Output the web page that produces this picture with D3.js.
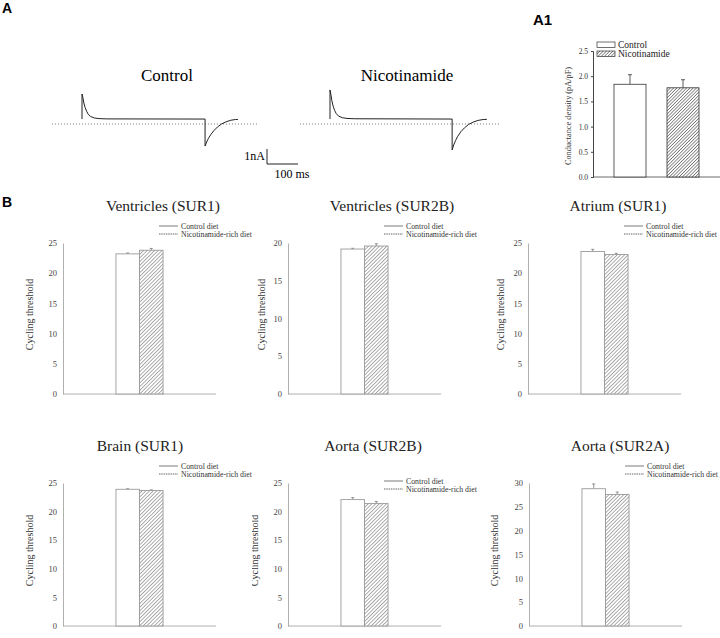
<!DOCTYPE html>
<html>
<head>
<meta charset="utf-8">
<script src="https://cdn.jsdelivr.net/npm/d3@7"></script>
<style>
  body { margin: 0; background: #fff; }
  svg { display: block; }
</style>
</head>
<body>
<div id="chart"></div>
<script>
// ---- data ----
// panel A traces: [time ms, current nA]
const controlTrace = [[0,0.33],[0,2.0],[3,1.75],[6,1.4],[10,1.1],[15,0.85],[20,0.65],[28,0.5],[40,0.4],[55,0.36],[80,0.34],[397,0.33],
  [397,-1.47],[402,-1.2],[408,-0.95],[415,-0.72],[425,-0.45],[437,-0.2],[450,0.0],[465,0.15],[480,0.25],[495,0.3],[503,0.3]];
const nicoTrace = [[0,0.33],[0,2.27],[3,1.95],[6,1.55],[10,1.2],[15,0.9],[20,0.7],[28,0.52],[40,0.42],[55,0.37],[80,0.35],[394,0.33],
  [394,-1.73],[399,-1.4],[405,-1.1],[412,-0.82],[422,-0.52],[434,-0.25],[447,-0.03],[462,0.13],[478,0.24],[494,0.3],[506,0.31]];
const baselineExtent = [[-97, 565], [-97, 550]];
const traceNames = ["Control", "Nicotinamide"];

// panel A1
const a1Groups = ["Control", "Nicotinamide"];
const a1Means = [1.84, 1.77];
const a1Errs = [0.19, 0.16];
const a1Ticks = [0, 0.5, 1.0, 1.5, 2.0, 2.5];

// panel B
const bTitles = ["Ventricles (SUR1)", "Ventricles (SUR2B)", "Atrium (SUR1)", "Brain (SUR1)", "Aorta (SUR2B)", "Aorta (SUR2A)"];
const bGroups = ["Control diet", "Nicotinamide-rich diet"];
const controlMeans = [23.2, 19.2, 23.6, 23.9, 22.1, 28.8];
const controlErrs = [0.15, 0.1, 0.35, 0.1, 0.35, 1.0];
const nicoMeans = [23.8, 19.6, 23.1, 23.7, 21.4, 27.6];
const nicoErrs = [0.3, 0.3, 0.2, 0.1, 0.35, 0.5];
const yMaxes = [25, 20, 25, 25, 25, 30];

// ---- layout ----
const width = 720, height = 638;
const svg = d3.select("#chart").append("svg")
  .attr("width", width).attr("height", height);

const serif = "'Liberation Serif', 'Times New Roman', serif";
const sans = "'Liberation Sans', Arial, sans-serif";

const defs = svg.append("defs");
function hatch(id, gap, color, sw) {
  const p = defs.append("pattern").attr("id", id)
    .attr("patternUnits", "userSpaceOnUse")
    .attr("width", gap).attr("height", gap)
    .attr("patternTransform", "rotate(45)");
  p.append("rect").attr("width", gap).attr("height", gap).attr("fill", "#fff");
  p.append("line").attr("x1", 0).attr("y1", 0).attr("x2", 0).attr("y2", gap)
    .attr("stroke", color).attr("stroke-width", sw);
}
hatch("hatchB", 2.6, "#777", 1.2);
hatch("hatchA", 2.3, "#3a3a3a", 1.1);

// panel labels
svg.append("text").attr("x", 2).attr("y", 13).text("A")
  .style("font-family", sans).style("font-weight", "bold").style("font-size", "14px");
svg.append("text").attr("x", 533).attr("y", 25).text("A1")
  .style("font-family", sans).style("font-weight", "bold").style("font-size", "15px");
svg.append("text").attr("x", 2).attr("y", 207).text("B")
  .style("font-family", sans).style("font-weight", "bold").style("font-size", "14px");

// ---- A: current traces ----
const tScale = d3.scaleLinear().domain([0, 100]).range([0, 31]);
const iScale = d3.scaleLinear().domain([0, 1]).range([124, 109]);
const traceOrigins = [82, 330];
const labelCenters = [167, 407];
[controlTrace, nicoTrace].forEach((tr, k) => {
  const g = svg.append("g").attr("transform", `translate(${traceOrigins[k]},0)`);
  g.append("line")
    .attr("x1", tScale(baselineExtent[k][0])).attr("x2", tScale(baselineExtent[k][1]))
    .attr("y1", iScale(0)).attr("y2", iScale(0))
    .attr("stroke", "#555").attr("stroke-width", 0.8).attr("stroke-dasharray", "1,2");
  g.append("path").datum(tr)
    .attr("d", d3.line().x(d => tScale(d[0])).y(d => iScale(d[1])))
    .attr("fill", "none").attr("stroke", "#222").attr("stroke-width", 1);
  svg.append("text").attr("x", labelCenters[k]).attr("y", 81)
    .attr("text-anchor", "middle").text(traceNames[k])
    .style("font-family", serif).style("font-size", "17px");
});

// scale bar
const sb = svg.append("g").attr("transform", "translate(267,164)");
sb.append("path")
  .attr("d", `M0,${iScale(1) - iScale(0)}V0H${tScale(100)}`)
  .attr("fill", "none").attr("stroke", "#222").attr("stroke-width", 1);
sb.append("text").attr("x", -2).attr("y", -4).attr("text-anchor", "end").text("1nA")
  .style("font-family", serif).style("font-size", "12px");
sb.append("text").attr("x", 25).attr("y", 14).attr("text-anchor", "middle").text("100 ms")
  .style("font-family", serif).style("font-size", "12px");

// ---- A1: conductance density ----
{
  const x0 = 593, x1 = 720, yb = 177, yt = 51;
  const x = d3.scaleBand().domain(a1Groups).range([x0, x1])
    .paddingInner(0.396).paddingOuter(0.396);
  const y = d3.scaleLinear().domain([0, 2.5]).range([yb, yt]);
  const g = svg.append("g");
  const ax = g.append("g").attr("transform", `translate(${x0},0)`)
    .call(d3.axisLeft(y).tickValues(a1Ticks).tickFormat(d3.format(".1f")).tickSize(2));
  ax.select(".domain").attr("stroke", "#444");
  ax.selectAll("line").attr("stroke", "#444");
  ax.selectAll("text").style("font-family", serif).style("font-size", "7.5px").attr("fill", "#333");
  g.append("line").attr("x1", x0).attr("x2", x1).attr("y1", yb).attr("y2", yb)
    .attr("stroke", "#444").attr("stroke-width", 0.8);
  a1Groups.forEach((grp, i) => {
    const cx = x(grp) + x.bandwidth() / 2;
    g.append("line").attr("x1", cx).attr("x2", cx)
      .attr("y1", y(a1Means[i])).attr("y2", y(a1Means[i] + a1Errs[i]))
      .attr("stroke", "#333").attr("stroke-width", 0.8);
    g.append("line").attr("x1", cx - 2).attr("x2", cx + 2)
      .attr("y1", y(a1Means[i] + a1Errs[i])).attr("y2", y(a1Means[i] + a1Errs[i]))
      .attr("stroke", "#333").attr("stroke-width", 0.8);
    g.append("rect").attr("x", x(grp)).attr("width", x.bandwidth())
      .attr("y", y(a1Means[i])).attr("height", yb - y(a1Means[i]))
      .attr("fill", i ? "url(#hatchA)" : "#fff")
      .attr("stroke", "#333").attr("stroke-width", 0.8);
    // legend
    g.append("rect").attr("x", 597).attr("y", 42 + i * 9).attr("width", 18).attr("height", 5.5)
      .attr("fill", i ? "url(#hatchA)" : "#fff").attr("stroke", "#333").attr("stroke-width", 0.7);
    g.append("text").attr("x", 618).attr("y", 48 + i * 9).text(grp)
      .style("font-family", serif).style("font-size", "9.5px").attr("fill", "#222");
  });
  g.append("text")
    .attr("transform", `translate(571,${(yb + yt) / 2 + 2}) rotate(-90)`)
    .attr("text-anchor", "middle").text("Conductance density (pA/pF)")
    .style("font-family", serif).style("font-size", "8.3px").attr("fill", "#333");
}

// ---- B: cycling threshold panels ----
const axisXs = [63, 288, 528, 63, 288, 529];
const rowBottoms = [394, 394, 394, 626, 626, 626];
const rowTops = [243, 243, 243, 483, 483, 483];
const titleXs = [163, 392, 618, 140, 373, 620];
const titleYs = [211, 211, 211, 451, 451, 451];
const legendYs = [226, 226, 226, 466, 481, 466];
const ylabelOffsets = [30, 23, 24, 30, 30, 31];
const clipRanges = [[0, 252], [252, 480], [480, 720]];

clipRanges.forEach((r, c) => {
  defs.append("clipPath").attr("id", "col" + c).append("rect")
    .attr("x", r[0]).attr("y", 190).attr("width", r[1] - r[0]).attr("height", 450);
});

bTitles.forEach((title, i) => {
  const ax0 = axisXs[i], yb = rowBottoms[i], yt = rowTops[i];
  const g = svg.append("g").attr("clip-path", `url(#col${i % 3})`);
  const x = d3.scaleBand().domain(bGroups).range([ax0, ax0 + 153])
    .paddingInner(0).paddingOuter(2.25);
  const y = d3.scaleLinear().domain([0, yMaxes[i]]).range([yb, yt]);

  const ax = g.append("g").attr("transform", `translate(${ax0},0)`)
    .call(d3.axisLeft(y).tickValues(d3.range(0, yMaxes[i] + 1, 5)).tickSize(0).tickPadding(6));
  ax.select(".domain").attr("stroke", "#b0b0b0").attr("stroke-width", 1);
  ax.selectAll("text").style("font-family", serif).style("font-size", "8.5px").attr("fill", "#444");
  g.append("line").attr("x1", ax0).attr("x2", ax0 + 153).attr("y1", yb).attr("y2", yb)
    .attr("stroke", "#b0b0b0").attr("stroke-width", 1);

  const means = [controlMeans[i], nicoMeans[i]];
  const errs = [controlErrs[i], nicoErrs[i]];
  bGroups.forEach((grp, k) => {
    const cx = x(grp) + x.bandwidth() / 2;
    g.append("line").attr("x1", cx).attr("x2", cx)
      .attr("y1", y(means[k])).attr("y2", y(means[k] + errs[k]))
      .attr("stroke", "#777").attr("stroke-width", 0.8);
    g.append("line").attr("x1", cx - 1.5).attr("x2", cx + 1.5)
      .attr("y1", y(means[k] + errs[k])).attr("y2", y(means[k] + errs[k]))
      .attr("stroke", "#777").attr("stroke-width", 0.8);
    g.append("rect").attr("x", x(grp)).attr("width", x.bandwidth())
      .attr("y", y(means[k])).attr("height", yb - y(means[k]))
      .attr("fill", k ? "url(#hatchB)" : "#fff")
      .attr("stroke", "#9a9a9a").attr("stroke-width", 0.9);
  });

  g.append("text").attr("x", titleXs[i]).attr("y", titleYs[i])
    .attr("text-anchor", "middle").text(title)
    .style("font-family", serif).style("font-size", "15.5px").attr("fill", "#222");

  g.append("text")
    .attr("transform", `translate(${ax0 - ylabelOffsets[i]},${(yb + yt) / 2 - 4}) rotate(-90)`)
    .attr("text-anchor", "middle").text("Cycling threshold")
    .style("font-family", serif).style("font-size", "10px").attr("fill", "#333");

  // legend
  const lx = ax0 + 96;
  bGroups.forEach((grp, k) => {
    const ly = legendYs[i] + k * 8;
    g.append("line").attr("x1", lx).attr("x2", lx + 19).attr("y1", ly).attr("y2", ly)
      .attr("stroke", "#999").attr("stroke-width", 1.3)
      .attr("stroke-dasharray", k ? "1.5,0.8" : null);
    g.append("text").attr("x", lx + 22).attr("y", ly + 2.8).text(grp)
      .style("font-family", serif).style("font-size", "7.8px").attr("fill", "#333");
  });
});
</script>
</body>
</html>
